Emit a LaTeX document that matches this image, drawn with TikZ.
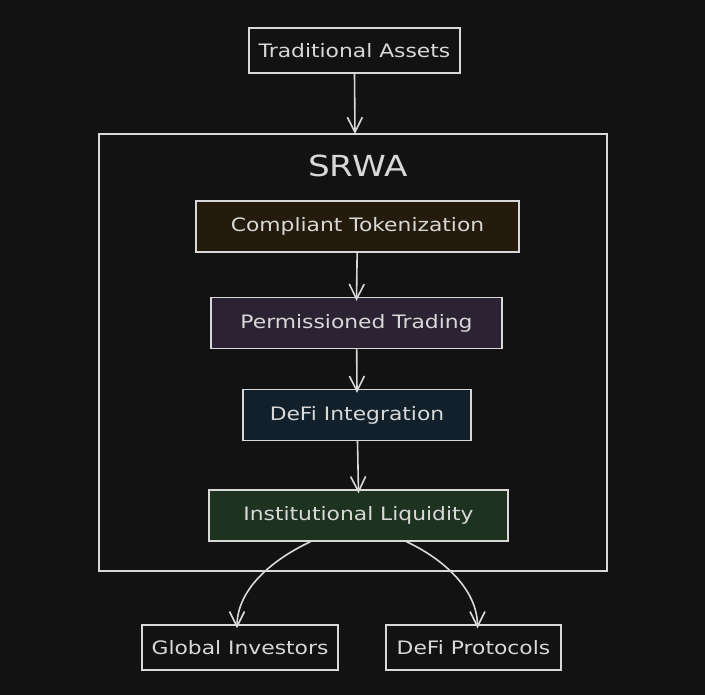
\documentclass[tikz,border=0pt]{standalone}
\usepackage{fontspec}
\setmainfont[FakeStretch=1.18]{DejaVu Sans}
\usetikzlibrary{arrows.meta}
\definecolor{bgdark}{RGB}{18,18,18}
\definecolor{chalk}{RGB}{216,216,216}
\definecolor{tokfill}{RGB}{37,27,13}
\definecolor{tradefill}{RGB}{43,34,51}
\definecolor{defifill}{RGB}{17,32,42}
\definecolor{liqfill}{RGB}{29,50,31}
\begin{document}
\begin{tikzpicture}[x=1pt,y=-1pt,line width=1.4pt,every node/.style={draw=chalk,text=chalk,inner sep=0pt,font=\fontsize{18.5}{22}\selectfont},box/.style={minimum height=45pt},stage/.style={minimum height=51pt},flow/.style={draw=chalk,line width=1.6pt,-{Straight Barb[length=15pt,width=15pt]}}]
\fill[bgdark] (0,0) rectangle (705,695);
\useasboundingbox (0,0) rectangle (705,695);
\node[draw=none,font=\fontsize{29}{34}\selectfont] (title) at (358,166) {SRWA};
\draw[chalk] (99,134) rectangle (607,571);
\coordinate (srwatop) at (355,134);
\node[box,minimum width=211pt] (assets) at (354.5,50.5) {Traditional Assets};
\node[stage,fill=tokfill,minimum width=323pt] (token) at (357.5,226.5) {Compliant Tokenization};
\node[stage,fill=tradefill,minimum width=291pt] (trade) at (356.5,323) {Permissioned Trading};
\node[stage,fill=defifill,minimum width=228pt] (defi) at (357,415) {DeFi Integration};
\node[stage,fill=liqfill,minimum width=299pt] (liq) at (358.5,515.5) {Institutional Liquidity};
\node[box,minimum width=196pt] (investors) at (240,647.5) {Global Investors};
\node[box,minimum width=175pt] (protocols) at (473.5,647.5) {DeFi Protocols};
\draw[flow] (assets.south) -- (srwatop);
\draw[flow] (token) -- ([yshift=-4pt]trade.north);
\draw[flow] (trade) -- ([yshift=-4pt]defi.north);
\draw[flow] (defi) -- ([yshift=-4pt]liq.north);
\draw[flow] ([xshift=-48pt]liq.south) to[out=-155,in=90,looseness=0.9] ([xshift=-3pt,yshift=-4pt]investors.north);
\draw[flow] ([xshift=48pt]liq.south) to[out=-25,in=90,looseness=0.9] ([xshift=4pt,yshift=-4pt]protocols.north);
\end{tikzpicture}
\end{document}
